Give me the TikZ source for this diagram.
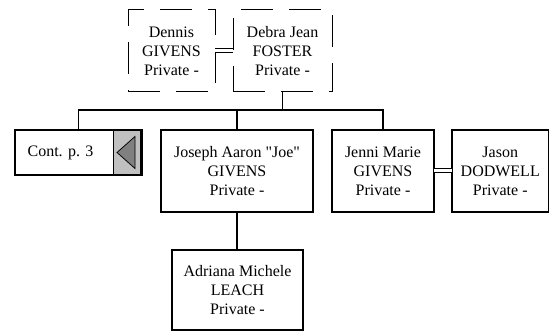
\documentclass[tikz,border=0pt]{standalone}
\usepackage{fontspec}
\setmainfont{Liberation Serif}
\usetikzlibrary{positioning}
\definecolor{tabgray}{RGB}{192,192,192}
\definecolor{arrowgray}{RGB}{128,128,128}

\begin{document}
\begin{tikzpicture}[x=1pt,y=-1pt,
  person/.style={draw,line width=1.5pt,outer sep=0pt,inner sep=0pt,align=center,minimum height=82pt,font=\fontsize{16}{19}\selectfont},
  parent/.style={person,line width=1pt,dash pattern=on 32pt off 16pt},
  link/.style={line width=1.5pt},
  spouse/.style={line width=1pt,double,double distance=3pt}]
\useasboundingbox (0,0) rectangle (550,331);
\node[parent,minimum width=87pt] (dennis) at (171.5,51) {Dennis\\GIVENS\\Private -};
\node[parent,minimum width=99pt,right=18pt of dennis] (debra) {Debra Jean\\FOSTER\\Private -};
\draw[spouse] (dennis) -- (debra);

\node[person,minimum width=127pt,minimum height=45pt] (cont) at (78.5,152.5) {};
\node[font=\fontsize{16}{19}\selectfont] (contlabel) at ([xshift=-18pt]cont.center) {Cont. p. 3};
\filldraw[fill=tabgray,line width=0.75pt] ([xshift=-29pt,yshift=0.75pt]cont.south east) rectangle ([xshift=-2pt,yshift=-0.75pt]cont.north east);
\filldraw[fill=arrowgray,line width=0.75pt] ([xshift=-25pt]cont.east) -- ([xshift=-7pt,yshift=16pt]cont.east) -- ([xshift=-7pt,yshift=-16pt]cont.east) -- cycle;

\node[person,minimum width=152pt] (joseph) at (237,171) {Joseph Aaron \textquotedbl Joe\textquotedbl\\GIVENS\\Private -};
\node[person,minimum width=102pt] (jenni) at (383,171) {Jenni Marie\\GIVENS\\Private -};
\node[person,minimum width=96.5pt,right=18pt of jenni] (jason) {Jason\\DODWELL\\Private -};
\draw[spouse] (jenni) -- (jason);
\node[person,minimum width=131pt,minimum height=80pt] (adriana) at (237.5,290) {Adriana Michele\\LEACH\\Private -};

\coordinate (bar) at (0,110);
\draw[link] (debra.south) -- (debra.south |- bar);
\draw[link] (cont.north) |- (jenni.north |- bar) -- (jenni.north);
\draw[link] (joseph.north |- bar) -- (joseph.north);
\draw[link] (joseph.south) -- (joseph.south |- adriana.north);

\end{tikzpicture}
\end{document}
